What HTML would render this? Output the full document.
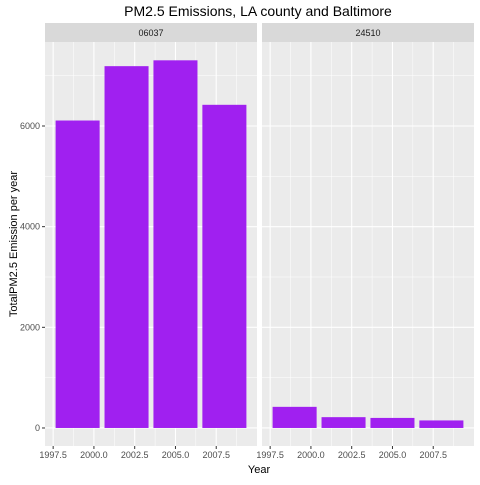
<!DOCTYPE html><html><head><meta charset="utf-8"><style>body{margin:0;background:#fff}svg{font-family:"Liberation Sans",sans-serif}</style></head><body>
<svg id="c" width="480" height="480"></svg>
<script>
const panels=["06037","24510"];
const years=[1999,2002,2005,2008];
const la=[6109,7189,7305,6421];
const balt=[420,215,200,150];
const series=[la,balt];
const yTicks=[0,2000,4000,6000];
const xTicks=[1997.5,2000.0,2002.5,2005.0,2007.5];
const NS="http://www.w3.org/2000/svg",svg=document.getElementById('c');
function mk(t,a,p){const e=document.createElementNS(NS,t);for(const k in a)e.setAttribute(k,a[k]);(p||svg).appendChild(e);return e;}
const plotTop=42,bot=446,ymin=-358,ymax=7669,xmin=1997.0,xmax=2010.0;
const panelX=[45,262],pw=212;
const y=v=>bot-(v-ymin)/(ymax-ymin)*(bot-plotTop);
const t=mk('text',{x:258,y:16,'text-anchor':'middle','font-size':14,fill:'#000'});t.textContent='PM2.5 Emissions, LA county and Baltimore';


panels.forEach((p,i)=>{
 const x0=panelX[i],x=v=>x0+(v-xmin)/(xmax-xmin)*pw;
 const g=mk('g',{});
 
 
 mk('rect',{x:x0,y:23,width:pw,height:19,fill:'#d9d9d9'},g);
 const s=mk('text',{x:x0+pw/2,y:36,'text-anchor':'middle','font-size':9,fill:'#1a1a1a'},g);s.textContent=p;
 
 
 mk('rect',{x:x0,y:plotTop,width:pw,height:bot-plotTop,fill:'#ebebeb'},g);
 yTicks.forEach(v=>{mk('line',{x1:x0,x2:x0+pw,y1:y(v+1000),y2:y(v+1000),stroke:'#fff','stroke-width':0.5},g);mk('line',{x1:x0,x2:x0+pw,y1:y(v),y2:y(v),stroke:'#fff','stroke-width':1.1},g);});
 xTicks.forEach(v=>{mk('line',{x1:x(v+1.25),x2:x(v+1.25),y1:plotTop,y2:bot,stroke:'#fff','stroke-width':0.5},g);mk('line',{x1:x(v),x2:x(v),y1:plotTop,y2:bot,stroke:'#fff','stroke-width':1.1},g);
  mk('line',{x1:x(v),x2:x(v),y1:bot,y2:bot+3,stroke:'#333'},g);
  const l=mk('text',{x:x(v),y:bot+12,'text-anchor':'middle','font-size':9,fill:'#4d4d4d'},g);l.textContent=v.toFixed(1);
  
  });
 series[i].forEach((v,j)=>{const r=mk('rect',{x:x(years[j]-1.35),width:x(years[j]+1.35)-x(years[j]-1.35),y:y(v),height:y(0)-y(v),fill:'#a020f0'},g);
  
  });
});
yTicks.forEach(v=>{mk('line',{x1:42,x2:45,y1:y(v),y2:y(v),stroke:'#333'});
 const l=mk('text',{x:40,y:y(v)+3,'text-anchor':'end','font-size':9,fill:'#4d4d4d'});l.textContent=v;
 
 });
const xt=mk('text',{x:259,y:473,'text-anchor':'middle','font-size':11,fill:'#000'});xt.textContent='Year';


const yt=mk('text',{x:0,y:0,'text-anchor':'middle','font-size':11,fill:'#000',transform:'translate(17,244) rotate(-90)'});yt.textContent='TotalPM2.5 Emission per year';


</script></body></html>
